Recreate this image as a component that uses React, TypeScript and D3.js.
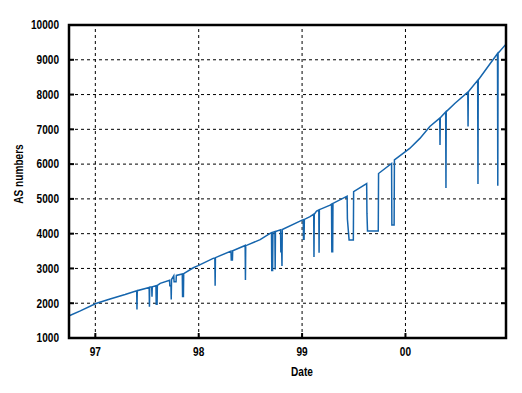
import React from 'react';
import * as d3 from 'd3';

// AS count over time (spikes are short drops in the data)
const dates = [
  '1996-10-01', '1996-11-09', '1997-01-03', '1997-02-22', '1997-04-16',
  '1997-05-27', '1997-05-28', '1997-05-29',
  '1997-07-10', '1997-07-11', '1997-07-12',
  '1997-07-19', '1997-07-20', '1997-07-21',
  '1997-08-03', '1997-08-04', '1997-08-07', '1997-08-08',
  '1997-08-18',
  '1997-09-20', '1997-09-21', '1997-09-25', '1997-09-26', '1997-09-27',
  '1997-10-05', '1997-10-06', '1997-10-13', '1997-10-14',
  '1997-11-04', '1997-11-05', '1997-11-08', '1997-11-09',
  '1997-12-13', '1997-12-30', '1998-02-21',
  '1998-02-27', '1998-02-28', '1998-03-01',
  '1998-04-25', '1998-04-26', '1998-04-30', '1998-05-01',
  '1998-06-14', '1998-06-15', '1998-06-16',
  '1998-06-21', '1998-08-06', '1998-09-10',
  '1998-09-15', '1998-09-16', '1998-09-19', '1998-09-20',
  '1998-09-27', '1998-09-28', '1998-09-29',
  '1998-10-17', '1998-10-18', '1998-10-21', '1998-10-22', '1998-10-23',
  '1999-01-01',
  '1999-01-05', '1999-01-06', '1999-01-08', '1999-01-09',
  '1999-01-29',
  '1999-02-11', '1999-02-12', '1999-02-13',
  '1999-02-21',
  '1999-03-01', '1999-03-02', '1999-03-03',
  '1999-04-10',
  '1999-04-15', '1999-04-16', '1999-04-19', '1999-04-20',
  '1999-06-09', '1999-06-10', '1999-06-16', '1999-07-01', '1999-07-02',
  '1999-08-17', '1999-08-18', '1999-08-20', '1999-09-27', '1999-09-28',
  '1999-11-13', '1999-11-14', '1999-11-22', '1999-11-23',
  '2000-01-16', '2000-02-21', '2000-03-27',
  '2000-05-01', '2000-05-02', '2000-05-03',
  '2000-05-22', '2000-05-23', '2000-05-24',
  '2000-06-24',
  '2000-08-08', '2000-08-09', '2000-08-10',
  '2000-09-12', '2000-09-13', '2000-09-14',
  '2000-10-18',
  '2000-11-21', '2000-11-22', '2000-11-23',
  '2000-12-21',
];

const asCounts = [
  1640, 1780, 1990, 2120, 2250,
  2360, 1820, 2360,
  2450, 1900, 2460,
  2470, 2190, 2470,
  2500, 1970, 1970, 2510,
  2570,
  2660, 2500, 2500, 2110, 2680,
  2790, 2620, 2620, 2800,
  2840, 2190, 2190, 2850,
  3020, 3080, 3290,
  3300, 2500, 3310,
  3500, 3240, 3240, 3510,
  3660, 2670, 3660,
  3670, 3830, 4010,
  4030, 2940, 2940, 4040,
  4060, 2970, 4060,
  4110, 3480, 3480, 3070, 4120,
  4390,
  4400, 3840, 3840, 4410,
  4490,
  4560, 3330, 4560,
  4650,
  4680, 3450, 4690,
  4820,
  4850, 3480, 3480, 4870,
  5080, 4420, 3820, 3820, 5210,
  5440, 4590, 4080, 4080, 5730,
  6020, 4250, 4250, 6120,
  6450, 6740, 7080,
  7320, 6550, 7330,
  7500, 5310, 7510,
  7750,
  8070, 7080, 8080,
  8410, 5430, 8420,
  8800,
  9180, 5380, 9190,
  9450,
];

const yTicks = [1000, 2000, 3000, 4000, 5000, 6000, 7000, 8000, 9000, 10000];
const xTickDates = ['1997-01-01', '1998-01-01', '1999-01-01', '2000-01-01'];
const xTickLabels = ['97', '98', '99', '00'];

const W = 522;
const H = 393;
const margin = { top: 25, right: 16, bottom: 55, left: 69 };
const font = '"Liberation Sans", Arial, sans-serif';

// narrow bold label (the original uses a condensed face)
const Label = ({ x, y, anchor = 'middle', rotate = 0, children }: any) => (
  <text
    transform={`translate(${x},${y}) rotate(${rotate}) scale(0.84,1)`}
    textAnchor={anchor}
    fontFamily={font}
    fontWeight="bold"
    fontSize={12}
    fill="#000"
  >
    {children}
  </text>
);

export default function App() {
  const parse = d3.utcParse('%Y-%m-%d');
  const data = dates.map((d, i) => ({ date: parse(d) as Date, value: asCounts[i] }));

  const x = d3.scaleUtc()
    .domain([parse('1996-09-30') as Date, parse('2000-12-21') as Date])
    .range([margin.left, W - margin.right]);
  const y = d3.scaleLinear()
    .domain([1000, 10000])
    .range([H - margin.bottom, margin.top]);

  const line = d3.line<{ date: Date; value: number }>()
    .x((d) => x(d.date))
    .y((d) => y(d.value));

  const x0 = margin.left;
  const x1 = W - margin.right;
  const y0 = H - margin.bottom;
  const y1 = margin.top;
  const xTicks = xTickDates.map((d) => parse(d) as Date);

  return (
    <svg width={W} height={H} style={{ position: 'absolute', left: 0, top: 0, background: '#fff' }}>
      {/* grid */}
      <g stroke="#000" strokeWidth={1} strokeDasharray="3,3">
        {yTicks.slice(1, -1).map((t) => (
          <line key={t} x1={x0} x2={x1} y1={y(t)} y2={y(t)} />
        ))}
        {xTicks.map((t, i) => (
          <line key={i} x1={x(t)} x2={x(t)} y1={y0} y2={y1} />
        ))}
      </g>

      {/* inward ticks */}
      <g stroke="#000" strokeWidth={2}>
        {yTicks.map((t) => (
          <g key={t}>
            <line x1={x0} x2={x0 + 5} y1={y(t)} y2={y(t)} />
            <line x1={x1 - 5} x2={x1} y1={y(t)} y2={y(t)} />
          </g>
        ))}
        {xTicks.map((t, i) => (
          <line key={i} x1={x(t)} x2={x(t)} y1={y0} y2={y0 - 5} />
        ))}
      </g>

      <path d={line(data) ?? ''} fill="none" stroke="#1565ad" strokeWidth={1.5} />

      <rect x={x0} y={y1} width={x1 - x0} height={y0 - y1} fill="none" stroke="#000" strokeWidth={2.5} />

      {/* labels */}
      {yTicks.map((t) => (
        <Label key={t} x={x0 - 10} y={y(t) + 4.3} anchor="end">{t}</Label>
      ))}
      {xTicks.map((t, i) => (
        <Label key={i} x={x(t)} y={y0 + 18}>{xTickLabels[i]}</Label>
      ))}
      <Label x={302} y={376}>Date</Label>
      <Label x={23} y={174} rotate={-90}>AS numbers</Label>
    </svg>
  );
}
